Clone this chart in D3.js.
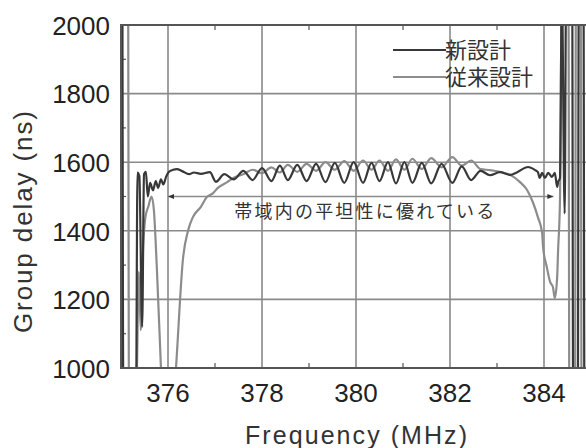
<!DOCTYPE html>
<html>
<head>
<meta charset="utf-8">
<script src="https://cdn.jsdelivr.net/npm/d3@7"></script>
<style>
  body { margin: 0; background: #fff; }
  svg { display: block; }
</style>
</head>
<body>
<div id="chart"></div>
<script>
// group delay vs frequency
// [frequency MHz, delay ns]; values beyond 1000..2000 run off the plot
const newDesign = [
  [375.03, 2100], [375.05, 900], [375.32, 900], [375.35, 1570], [375.39, 1560],
  [375.45, 1120], [375.49, 1565], [375.53, 1572], [375.57, 1500], [375.62, 1540],
  [375.68, 1518], [375.74, 1545], [375.79, 1525], [375.85, 1550], [375.90, 1535],
  [375.96, 1558], [376.02, 1572], [376.11, 1578], [376.19, 1580], [376.30, 1574],
  [376.45, 1565], [376.55, 1570], [376.70, 1566], [376.89, 1571], [377.02, 1543],
  [377.20, 1565], [377.40, 1550], [377.60, 1575], [377.80, 1548], [378.00, 1583],
  [378.20, 1545], [378.38, 1590], [378.55, 1548], [378.75, 1592], [378.95, 1545],
  [379.15, 1595], [379.35, 1542], [379.55, 1598], [379.75, 1540], [379.95, 1600],
  [380.15, 1540], [380.33, 1598], [380.50, 1545], [380.68, 1600], [380.85, 1538],
  [381.03, 1600], [381.20, 1540], [381.40, 1598], [381.60, 1538], [381.82, 1595],
  [382.05, 1540], [382.25, 1588], [382.45, 1548], [382.65, 1575], [382.85, 1562],
  [383.06, 1571], [383.28, 1563], [383.43, 1571], [383.66, 1586], [383.81, 1577],
  [383.87, 1571], [383.91, 1554], [383.96, 1569], [384.02, 1554], [384.09, 1569],
  [384.17, 1557], [384.23, 1569], [384.28, 1528], [384.30, 1542], [384.34, 1554],
  [384.38, 2100], [384.44, 1450], [384.47, 2100], [384.60, 2100], [384.62, 900],
  [384.72, 900], [384.74, 2100], [384.84, 2100], [384.86, 900], [385.00, 900]
];

const conventional = [
  [375.12, 2100], [375.15, 2100], [375.17, 900], [375.32, 900], [375.38, 1280],
  [375.42, 1110], [375.47, 1350], [375.52, 1440], [375.58, 1470], [375.65, 1500],
  [375.70, 1460], [375.76, 1300], [375.85, 1000], [375.88, 900], [376.12, 900],
  [376.17, 1000], [376.32, 1320], [376.43, 1402], [376.53, 1440], [376.70, 1470],
  [376.83, 1499], [376.96, 1510], [377.06, 1525], [377.26, 1542], [377.43, 1557],
  [377.60, 1565], [377.80, 1578], [378.00, 1568], [378.20, 1585], [378.38, 1570],
  [378.55, 1592], [378.75, 1572], [378.95, 1595], [379.15, 1575], [379.35, 1600],
  [379.55, 1578], [379.75, 1603], [379.95, 1575], [380.15, 1605], [380.33, 1578],
  [380.50, 1605], [380.68, 1575], [380.85, 1608], [381.03, 1578], [381.20, 1610],
  [381.40, 1580], [381.60, 1612], [381.82, 1585], [382.05, 1615], [382.25, 1590],
  [382.45, 1605], [382.65, 1580], [382.85, 1577], [383.06, 1572], [383.28, 1563],
  [383.49, 1542], [383.64, 1519], [383.77, 1481], [383.87, 1440], [383.96, 1394],
  [383.98, 1353], [384.06, 1294], [384.13, 1251], [384.19, 1236], [384.23, 1204],
  [384.28, 1265], [384.30, 1344], [384.34, 1490], [384.38, 2100], [384.52, 2100],
  [384.54, 900], [384.66, 900], [384.68, 2100], [384.78, 2100], [384.80, 900],
  [384.92, 900], [384.94, 2100]
];

const seriesNames = ['新設計', '従来設計'];
const xTicks = [376, 378, 380, 382, 384];
const xMinorTicks = [377, 379, 381, 383];
const yTicks = [1000, 1200, 1400, 1600, 1800, 2000];
const yMinorTicks = [1100, 1300, 1500, 1700, 1900];
const bandArrow = [376.0, 384.2];     // flat band, drawn at 1500 ns
const bandNote = '帯域内の平坦性に優れている';

const width = 586, height = 448;
const margin = {top: 25, left: 121, bottom: 80};
const plotW = 470, plotH = height - margin.top - margin.bottom;

const x = d3.scaleLinear([375, 385], [0, plotW]);
const y = d3.scaleLinear([1000, 2000], [plotH, 0]);

const svg = d3.select('#chart').append('svg')
  .attr('width', width).attr('height', height);

const defs = svg.append('defs');
defs.append('clipPath').attr('id', 'plot-clip')
  .append('rect').attr('width', plotW).attr('height', plotH);
defs.append('marker').attr('id', 'arrow')
  .attr('viewBox', '0 0 10 10').attr('refX', 10).attr('refY', 5)
  .attr('markerWidth', 8).attr('markerHeight', 6).attr('orient', 'auto-start-reverse')
  .attr('markerUnits', 'userSpaceOnUse')
  .append('path').attr('d', 'M0,1L10,5L0,9z').attr('fill', '#333');

const g = svg.append('g').attr('transform', `translate(${margin.left},${margin.top})`);

const gridColor = '#8a8a8a';

// grid
g.append('g').selectAll('line').data(xTicks).join('line')
  .attr('x1', d => x(d)).attr('x2', d => x(d))
  .attr('y1', 0).attr('y2', plotH)
  .attr('stroke', gridColor).attr('stroke-width', 1.6);
g.append('g').selectAll('line').data(yTicks.slice(1, -1)).join('line')
  .attr('x1', 0).attr('x2', plotW)
  .attr('y1', d => y(d)).attr('y2', d => y(d))
  .attr('stroke', gridColor).attr('stroke-width', 1.6);

// minor ticks, inside the frame
const minor = g.append('g').attr('stroke', '#555').attr('stroke-width', 1.2);
minor.selectAll('line.yb').data(xMinorTicks).join('line').attr('class', 'yb')
  .attr('x1', d => x(d)).attr('x2', d => x(d)).attr('y1', plotH).attr('y2', plotH - 5);
minor.selectAll('line.yt').data(xMinorTicks).join('line').attr('class', 'yt')
  .attr('x1', d => x(d)).attr('x2', d => x(d)).attr('y1', 0).attr('y2', 5);
minor.selectAll('line.xl').data(yMinorTicks).join('line').attr('class', 'xl')
  .attr('x1', 0).attr('x2', 5).attr('y1', d => y(d)).attr('y2', d => y(d));

// curves
const line = d3.line().x(d => x(d[0])).y(d => y(d[1])).curve(d3.curveMonotoneX);
const curves = g.append('g').attr('clip-path', 'url(#plot-clip)');
curves.append('path').datum(conventional)
  .attr('d', line).attr('fill', 'none')
  .attr('stroke', '#8c8c8c').attr('stroke-width', 2.2).attr('stroke-linejoin', 'round');
curves.append('path').datum(newDesign)
  .attr('d', line).attr('fill', 'none')
  .attr('stroke', '#383838').attr('stroke-width', 2.2).attr('stroke-linejoin', 'round');

// band arrow + note
g.append('line')
  .attr('x1', x(bandArrow[0])).attr('x2', x(bandArrow[1]))
  .attr('y1', y(1500)).attr('y2', y(1500))
  .attr('stroke', gridColor).attr('stroke-width', 1.6)
  .attr('marker-start', 'url(#arrow)').attr('marker-end', 'url(#arrow)');
g.append('text')
  .attr('x', x(380.2)).attr('y', y(1436))
  .attr('text-anchor', 'middle')
  .attr('font-family', '"Noto Sans CJK JP", sans-serif')
  .attr('font-size', 18).attr('letter-spacing', 2.2)
  .attr('fill', '#333')
  .text(bandNote);

// frame
g.append('rect').attr('width', plotW).attr('height', plotH)
  .attr('fill', 'none').attr('stroke', '#555').attr('stroke-width', 2);

// tick labels
const tickFont = '"Liberation Sans", Arial, sans-serif';
g.append('g').selectAll('text').data(yTicks).join('text')
  .attr('x', -11).attr('y', d => y(d)).attr('dy', '0.38em')
  .attr('text-anchor', 'end').attr('font-family', tickFont).attr('font-size', 26)
  .attr('fill', '#222').text(d => d);
g.append('g').selectAll('text').data(xTicks).join('text')
  .attr('x', d => x(d)).attr('y', plotH + 34)
  .attr('text-anchor', 'middle').attr('font-family', tickFont).attr('font-size', 26)
  .attr('fill', '#222').text(d => d);

// axis titles
svg.append('text')
  .attr('x', 356).attr('y', 444)
  .attr('text-anchor', 'middle').attr('font-family', tickFont).attr('font-size', 25)
  .attr('textLength', 222).attr('lengthAdjust', 'spacing')
  .attr('fill', '#333').text('Frequency (MHz)');
svg.append('text')
  .attr('transform', 'translate(32,222) rotate(-90)')
  .attr('text-anchor', 'middle').attr('font-family', tickFont).attr('font-size', 26)
  .attr('textLength', 222).attr('lengthAdjust', 'spacing')
  .attr('fill', '#333').text('Group delay (ns)');

// legend
const legend = svg.append('g');
const legendColors = ['#383838', '#8c8c8c'];
seriesNames.forEach((name, i) => {
  const ly = 50 + i * 27;
  legend.append('line').attr('x1', 393).attr('x2', 446).attr('y1', ly).attr('y2', ly)
    .attr('stroke', legendColors[i]).attr('stroke-width', 2.2);
  legend.append('text').attr('x', 445).attr('y', ly).attr('dy', '0.36em')
    .attr('font-family', '"Noto Sans CJK JP", sans-serif').attr('font-size', 22)
    .attr('fill', '#333').text(name);
});
</script>
</body>
</html>
